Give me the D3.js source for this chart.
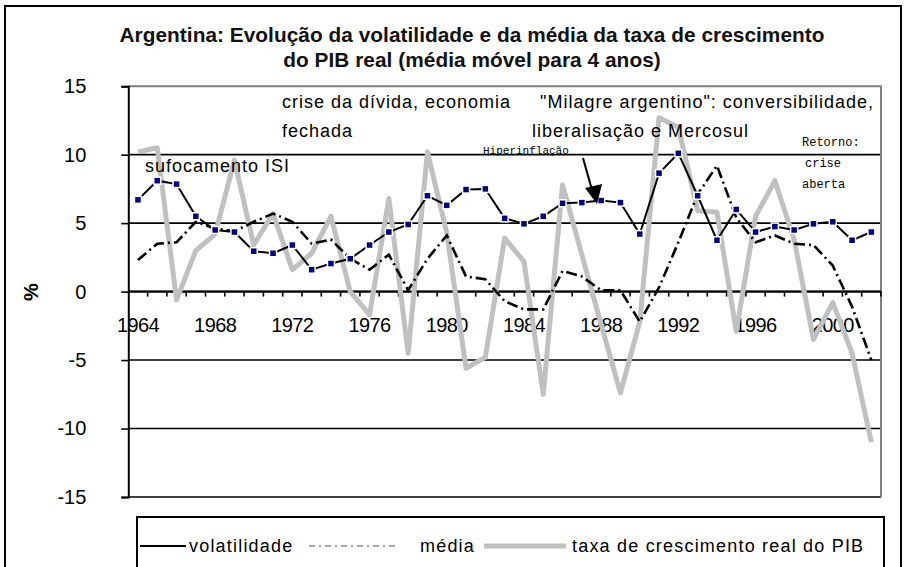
<!DOCTYPE html>
<html>
<head>
<meta charset="utf-8">
<script src="https://cdn.jsdelivr.net/npm/d3@7"></script>
<style>
  html, body { margin: 0; padding: 0; background: #fff; }
  svg { display: block; font-family: "Liberation Sans", Arial, sans-serif; }
</style>
</head>
<body>
<svg id="chart" width="907" height="567"></svg>
<script>
const years = d3.range(1964, 2003);
const volatilidade = [6.7, 8.1, 7.85, 5.5, 4.5, 4.35, 2.95, 2.8, 3.4, 1.6, 2.05, 2.4, 3.4, 4.35, 4.9, 7.0, 6.3, 7.45, 7.5, 5.35, 4.95, 5.5, 6.45, 6.5, 6.65, 6.5, 4.2, 8.65, 10.1, 7.0, 3.75, 6.0, 4.35, 4.75, 4.5, 4.95, 5.1, 3.75, 4.35];
const media = [2.3, 3.5, 3.6, 5.1, 4.6, 4.4, 5.1, 5.7, 5.1, 3.5, 3.8, 2.4, 1.6, 2.7, 0.1, 2.4, 4.1, 1.1, 0.9, -0.7, -1.3, -1.3, 1.5, 1.1, 0.1, 0.1, -2.2, 0.3, 3.6, 7.1, 9.2, 5.4, 3.6, 4.1, 3.5, 3.4, 1.9, -1.1, -5.0];
const taxa = [10.2, 10.5, -0.6, 3.0, 4.2, 9.6, 3.4, 5.7, 1.6, 2.8, 5.5, 0.0, -1.7, 6.8, -4.5, 10.2, 4.3, -5.6, -4.8, 3.9, 2.2, -7.5, 7.8, 2.7, -2.4, -7.4, -2.2, 12.7, 12.0, 5.9, 5.8, -2.9, 5.5, 8.1, 3.8, -3.5, -0.8, -4.5, -11.0];
const yTicks = [-15, -10, -5, 0, 5, 10, 15];
const xLabels = [1964, 1968, 1972, 1976, 1980, 1984, 1988, 1992, 1996, 2000];
const titleLines = ["Argentina: Evolução da volatilidade e da média da taxa de crescimento", "do PIB real (média móvel para 4 anos)"];
const seriesNames = ["volatilidade", "média", "taxa de crescimento real do PIB"];

const svg = d3.select("#chart");
const L = 128.3, R = 881, T = 86.2, B = 497;
const x = d3.scaleBand().domain(years).range([L, R]).padding(0);
const y = d3.scaleLinear().domain([-15, 15]).range([B, T]);
const cx = d => x(d) + x.bandwidth() / 2;
const SANS = "Liberation Sans, Arial, sans-serif";
const MONO = "Liberation Mono, Courier New, monospace";

// outer frame
svg.append("rect").attr("x", 5).attr("y", 6).attr("width", 896).attr("height", 580)
  .attr("fill", "none").attr("stroke", "#000").attr("stroke-width", 2);

// title
svg.append("g").selectAll("text").data(titleLines).join("text")
  .attr("x", 472).attr("y", (d, i) => 42 + i * 25)
  .attr("text-anchor", "middle").attr("font-weight", "bold").attr("font-size", 20.8)
  .attr("letter-spacing", 0.05)
  .attr("font-family", SANS).attr("fill", "#111").text(d => d);

// gridlines
svg.append("g").selectAll("line").data(yTicks.filter(v => v < 15)).join("line")
  .attr("x1", L).attr("x2", R).attr("y1", d => y(d)).attr("y2", d => y(d))
  .attr("stroke", "#000").attr("stroke-width", 1.6);
// plot border top/right (gray)
svg.append("path").attr("d", `M${L},${y(15)}H${R}V${B}`)
  .attr("fill", "none").attr("stroke", "#808080").attr("stroke-width", 2);

// y axis
const yAxis = svg.append("g").attr("transform", `translate(${L},0)`)
  .call(d3.axisLeft(y).tickValues(yTicks).tickSize(7).tickFormat(d => String(d)));
yAxis.select(".domain").attr("stroke", "#000").attr("stroke-width", 2);
yAxis.selectAll(".tick line").attr("stroke", "#000").attr("stroke-width", 1.6);
yAxis.selectAll(".tick text").attr("font-size", 20).attr("fill", "#000")
  .attr("font-family", SANS).attr("x", -42).attr("text-anchor", "end");

// y title
svg.append("text").attr("transform", "translate(38,292) rotate(-90)")
  .attr("text-anchor", "middle").attr("font-weight", "bold").attr("font-size", 20)
  .attr("font-family", SANS).text("%");

// x axis at zero
const x0 = y(0);
svg.append("line").attr("x1", L).attr("x2", R).attr("y1", x0).attr("y2", x0)
  .attr("stroke", "#000").attr("stroke-width", 2);
svg.append("g").selectAll("line").data(years.slice(1).concat([null])).join("line")
  .attr("x1", d => d === null ? R : x(d)).attr("x2", d => d === null ? R : x(d))
  .attr("y1", x0).attr("y2", x0 + 5).attr("stroke", "#000").attr("stroke-width", 1.6);
const xAxis = svg.append("g").attr("transform", `translate(0,${x0})`)
  .call(d3.axisBottom(x).tickValues(xLabels).tickSize(0).tickPadding(0));
xAxis.select(".domain").remove();
xAxis.selectAll(".tick text").attr("font-size", 20).attr("letter-spacing", -0.6)
  .attr("font-family", SANS).attr("fill", "#000").attr("dy", 0).attr("y", 40);

// series lines
const line = vals => d3.line().x((d, i) => cx(years[i])).y(d => y(d))(vals);
svg.append("path").attr("d", line(taxa)).attr("fill", "none")
  .attr("stroke", "#c0c0c0").attr("stroke-width", 5).attr("stroke-linejoin", "round");
svg.append("path").attr("d", line(media)).attr("fill", "none")
  .attr("stroke", "#000").attr("stroke-width", 2.6).attr("stroke-dasharray", "11,4,2,4");
svg.append("path").attr("d", line(volatilidade)).attr("fill", "none")
  .attr("stroke", "#000").attr("stroke-width", 2);
svg.append("g").selectAll("rect").data(volatilidade).join("rect")
  .attr("x", (d, i) => cx(years[i]) - 3.5).attr("y", d => y(d) - 3.5)
  .attr("width", 7).attr("height", 7).attr("fill", "#000080")
  .attr("stroke", "#fff").attr("stroke-width", 1.5);

// annotations
const annSans = [
  {t: "crise da dívida, economia", x: 282, y: 108},
  {t: "fechada", x: 282, y: 137},
  {t: "sufocamento ISI", x: 145, y: 172},
  {t: "\"Milagre argentino\": conversibilidade,", x: 540, y: 108},
  {t: "liberalisação e Mercosul", x: 532, y: 137}
];
svg.append("g").selectAll("text").data(annSans).join("text")
  .attr("x", d => d.x).attr("y", d => d.y).attr("font-size", 18).attr("letter-spacing", 1.0)
  .attr("font-family", SANS).attr("fill", "#000").text(d => d.t);
const annMono = [
  {t: "Hiperinflação", x: 483, y: 154, s: 11},
  {t: "Retorno:", x: 802, y: 146, s: 12},
  {t: "crise", x: 805, y: 167, s: 12},
  {t: "aberta", x: 802, y: 188, s: 12}
];
svg.append("g").selectAll("text").data(annMono).join("text")
  .attr("x", d => d.x).attr("y", d => d.y).attr("font-size", d => d.s)
  .attr("font-family", MONO).attr("fill", "#000").text(d => d.t);

// arrow
svg.append("line").attr("x1", 583).attr("y1", 158).attr("x2", 592).attr("y2", 190)
  .attr("stroke", "#000").attr("stroke-width", 2);
svg.append("path").attr("d", "M597,204 L585,188 L602,184 Z").attr("fill", "#000");

// legend
svg.append("rect").attr("x", 137).attr("y", 517).attr("width", 747).attr("height", 60)
  .attr("fill", "#fff").attr("stroke", "#000").attr("stroke-width", 2);
const lg = svg.append("g");
const ly = 546;
lg.append("line").attr("x1", 140).attr("x2", 186).attr("y1", ly).attr("y2", ly)
  .attr("stroke", "#000").attr("stroke-width", 2);
lg.append("line").attr("x1", 309).attr("x2", 399).attr("y1", ly).attr("y2", ly)
  .attr("stroke", "#555").attr("stroke-width", 1).attr("stroke-dasharray", "6,4,2,4");
lg.append("line").attr("x1", 484).attr("x2", 566).attr("y1", ly).attr("y2", ly)
  .attr("stroke", "#c0c0c0").attr("stroke-width", 5);
lg.selectAll("text").data([{t: seriesNames[0], x: 189}, {t: seriesNames[1], x: 420}, {t: seriesNames[2], x: 572}])
  .join("text").attr("x", d => d.x).attr("y", ly + 6).attr("font-size", 18)
  .attr("letter-spacing", 1.2).attr("font-family", SANS).attr("fill", "#000").text(d => d.t);
</script>
</body>
</html>
